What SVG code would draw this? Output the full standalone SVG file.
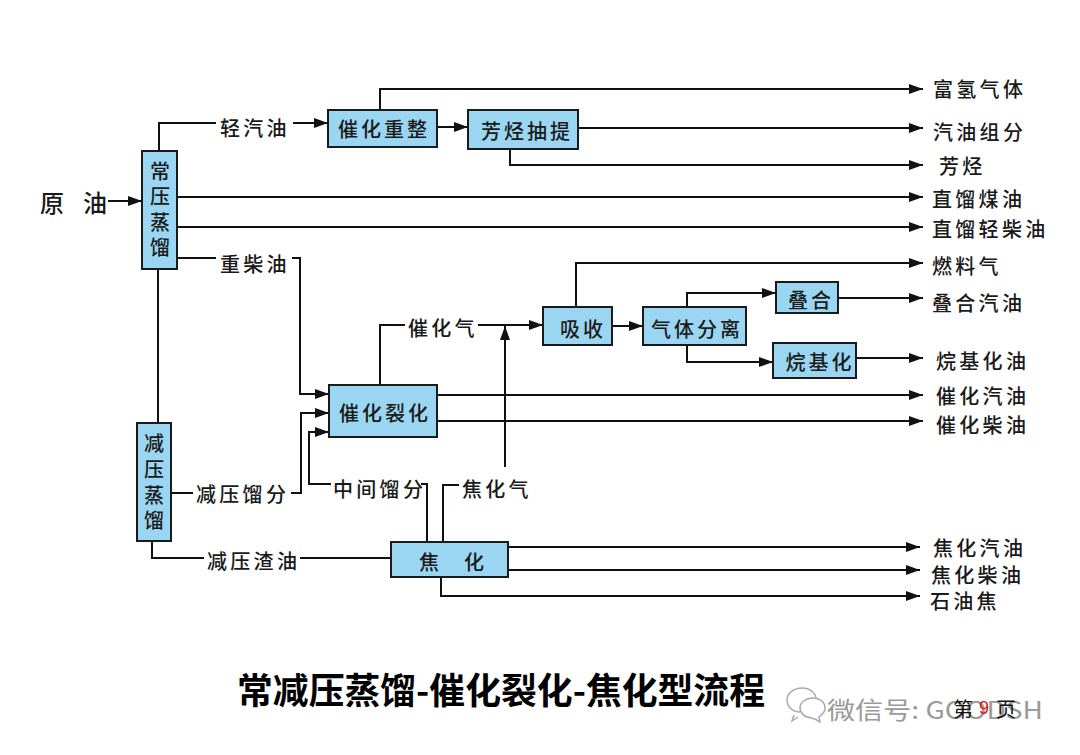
<svg xmlns="http://www.w3.org/2000/svg" width="1080" height="755" viewBox="0 0 1080 755">
<defs>
<marker id="ah" viewBox="0 0 14 10" refX="14" refY="5" markerWidth="14" markerHeight="10" markerUnits="userSpaceOnUse" orient="auto">
<path d="M0,0 L14,5 L0,10 Z" fill="#111"/>
</marker>
<style>
.box{fill:#9ad6f2;stroke:#1a1a1a;stroke-width:2}
.ln{fill:none;stroke:#111;stroke-width:2}
.ar{fill:none;stroke:#111;stroke-width:2;marker-end:url(#ah)}
.t{font-family:"Noto Sans CJK SC","Noto Sans",sans-serif;font-size:20px;font-weight:500;fill:#1a1a1a;letter-spacing:3.3px;dominant-baseline:central}
.bt{font-family:"Noto Sans CJK SC","Noto Sans",sans-serif;font-size:20px;font-weight:500;fill:#1a1a1a;letter-spacing:3px;dominant-baseline:central;text-anchor:middle}
.vt{font-family:"Noto Sans CJK SC","Noto Sans",sans-serif;font-size:20px;font-weight:500;fill:#1a1a1a;dominant-baseline:central;text-anchor:middle}
</style>
</defs>
<rect width="1080" height="755" fill="#fff"/>

<g id="connectors">
<line class="ar" x1="108" y1="201" x2="142" y2="201"/>
<polyline class="ln" points="159,151 159,123 216,123"/>
<line class="ar" x1="293" y1="123" x2="328" y2="123"/>
<polyline class="ar" points="380,110 380,89 923,89"/>
<line class="ar" x1="437" y1="127" x2="468" y2="127"/>
<line class="ar" x1="578" y1="128" x2="923" y2="128"/>
<polyline class="ar" points="510,149 510,165 923,165"/>
<line class="ar" x1="177" y1="197" x2="923" y2="197"/>
<line class="ar" x1="177" y1="227" x2="923" y2="227"/>
<line class="ln" x1="177" y1="258" x2="216" y2="258"/>
<polyline class="ar" points="292,258 300,258 300,394 329,394"/>
<line class="ln" x1="158" y1="269" x2="158" y2="423"/>
<line class="ln" x1="171" y1="493" x2="193" y2="493"/>
<polyline class="ar" points="291,493 301,493 301,413 329,413"/>
<polyline class="ln" points="427,542 427,484 421,484"/>
<polyline class="ar" points="331,484 309,484 309,432 329,432"/>
<polyline class="ln" points="152,541 152,558 204,558"/>
<line class="ln" x1="300" y1="558" x2="391" y2="558"/>
<polyline class="ln" points="380,385 380,325 405,325"/>
<line class="ar" x1="478" y1="325" x2="543" y2="325"/>
<polyline class="ln" points="443,542 443,485 459,485"/>
<line class="ar" x1="505" y1="467" x2="505" y2="326"/>
<polyline class="ar" points="576,307 576,263 923,263"/>
<line class="ar" x1="612" y1="326" x2="643" y2="326"/>
<polyline class="ar" points="687,307 687,293 776,293"/>
<line class="ar" x1="838" y1="298" x2="923" y2="298"/>
<polyline class="ar" points="687,345 687,362 773,362"/>
<line class="ar" x1="856" y1="358" x2="923" y2="358"/>
<line class="ar" x1="437" y1="395" x2="923" y2="395"/>
<line class="ar" x1="437" y1="421" x2="923" y2="421"/>
<line class="ar" x1="508" y1="547" x2="920" y2="547"/>
<line class="ar" x1="508" y1="570" x2="920" y2="570"/>
<polyline class="ar" points="441,577 441,596 920,596"/>
</g>

<g id="labels">
<text x="52" y="201" style="font-family:'Noto Sans CJK SC',sans-serif;font-size:24px;font-weight:500;fill:#1a1a1a;dominant-baseline:central;text-anchor:middle">原</text>
<text x="95" y="201" style="font-family:'Noto Sans CJK SC',sans-serif;font-size:24px;font-weight:500;fill:#1a1a1a;dominant-baseline:central;text-anchor:middle">油</text>
<text class="t" x="220" y="127">轻汽油</text>
<text class="t" x="220" y="263">重柴油</text>
<text class="t" x="196" y="493">减压馏分</text>
<text class="t" x="333" y="488">中间馏分</text>
<text class="t" x="207" y="560">减压渣油</text>
<text class="t" x="408" y="327">催化气</text>
<text class="t" x="462" y="488">焦化气</text>
<text class="t" x="933" y="88">富氢气体</text>
<text class="t" x="933" y="131">汽油组分</text>
<text class="t" x="939" y="165">芳烃</text>
<text class="t" x="932" y="198">直馏煤油</text>
<text class="t" x="932" y="228">直馏轻柴油</text>
<text class="t" x="932" y="265">燃料气</text>
<text class="t" x="932" y="302">叠合汽油</text>
<text class="t" x="936" y="360">烷基化油</text>
<text class="t" x="936" y="395">催化汽油</text>
<text class="t" x="936" y="424">催化柴油</text>
<text class="t" x="933" y="547">焦化汽油</text>
<text class="t" x="931" y="574">焦化柴油</text>
<text class="t" x="930" y="600">石油焦</text>
</g>

<g id="node-changya">
<rect class="box" x="142" y="151" width="35" height="118"/>
<text class="vt" x="160" y="170">常</text>
<text class="vt" x="160" y="195">压</text>
<text class="vt" x="160" y="221">蒸</text>
<text class="vt" x="160" y="246">馏</text>
</g>
<g id="node-jianya">
<rect class="box" x="137" y="423" width="34" height="118"/>
<text class="vt" x="154" y="442">减</text>
<text class="vt" x="154" y="468">压</text>
<text class="vt" x="154" y="494">蒸</text>
<text class="vt" x="154" y="519">馏</text>
</g>
<g id="node-chongzheng">
<rect class="box" x="328" y="110" width="109" height="37"/>
<text class="bt" x="384" y="128">催化重整</text>
</g>
<g id="node-chouti">
<rect class="box" x="468" y="110" width="110" height="39"/>
<text class="bt" x="527" y="130">芳烃抽提</text>
</g>
<g id="node-liehua">
<rect class="box" x="329" y="385" width="108" height="52"/>
<text class="bt" x="385" y="412">催化裂化</text>
</g>
<g id="node-xishou">
<rect class="box" x="543" y="307" width="69" height="38"/>
<text class="bt" x="583" y="328">吸收</text>
</g>
<g id="node-fenli">
<rect class="box" x="643" y="307" width="103" height="38"/>
<text class="bt" x="697" y="328">气体分离</text>
</g>
<g id="node-diehe">
<rect class="box" x="776" y="282" width="62" height="31"/>
<text class="bt" x="811" y="299">叠合</text>
</g>
<g id="node-wanjihua">
<rect class="box" x="773" y="343" width="83" height="35"/>
<text class="bt" x="820" y="361">烷基化</text>
</g>
<g id="node-jiaohua">
<rect class="box" x="391" y="542" width="117" height="35"/>
<text class="vt" x="429" y="561">焦</text>
<text class="vt" x="474" y="561">化</text>
</g>

<g id="title">
<text x="237" y="688" style="font-family:'Noto Sans CJK SC',sans-serif;font-size:36px;font-weight:700;fill:#000;dominant-baseline:central" textLength="528" lengthAdjust="spacingAndGlyphs">常减压蒸馏-催化裂化-焦化型流程</text>
</g>

<g id="watermark">
<path d="M800,712 c-8,0 -13,-6 -13,-12 c0,-7 7,-12 15,-12 c8,0 14,5 14,11 M794,715 l-2,6 l6,-4" fill="none" stroke="#aaa" stroke-width="1.5"/>
<path d="M812,718 c-7,0 -12,-5 -12,-10 c0,-6 6,-10 13,-10 c7,0 12,4 12,10 c0,4 -3,7 -6,9 l1,5 l-5,-3 c-1,0 -2,0 -3,-1z" fill="#fff" stroke="#aaa" stroke-width="1.5"/>
<text x="827" y="708" style="font-family:'Noto Sans CJK SC','Liberation Sans',sans-serif;font-size:24px;fill:#9a9a9a;dominant-baseline:central" textLength="216" lengthAdjust="spacingAndGlyphs">微信号: GOODSH</text>
<text x="953" y="708" style="font-family:'Noto Sans CJK SC',sans-serif;font-size:20px;fill:#111;dominant-baseline:central">第<tspan x="979" style="font-family:'Liberation Sans',sans-serif;font-size:18px;fill:#e01010">9</tspan><tspan x="996">页</tspan></text>
</g>
</svg>
